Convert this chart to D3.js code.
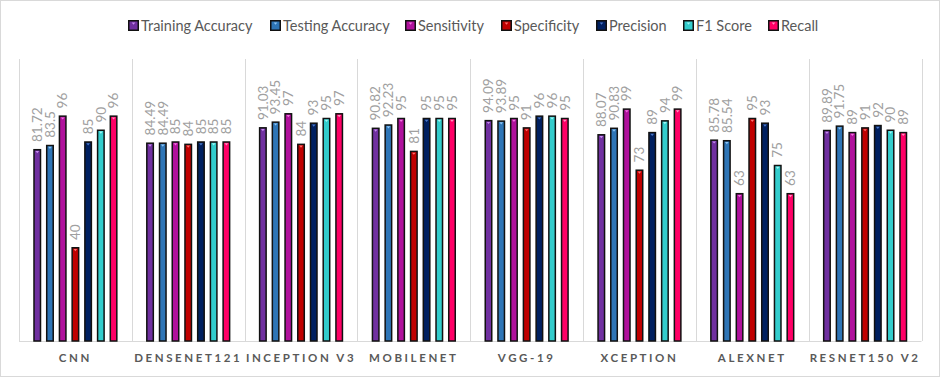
<!DOCTYPE html>
<html><head><meta charset="utf-8">
<script src="https://cdn.jsdelivr.net/npm/d3@7"></script>
<style>body{margin:0;background:#fff}svg{display:block}</style>
</head><body><div id="chart"></div>
<script>
const categories = ["CNN","DENSENET121","INCEPTION V3","MOBILENET","VGG-19","XCEPTION","ALEXNET","RESNET150 V2"];
const seriesNames = ["Training Accuracy","Testing Accuracy","Sensitivity","Specificity","Precision","F1 Score","Recall"];
const trainingAccuracy = [81.72,84.49,91.03,90.82,94.09,88.07,85.78,89.89];
const testingAccuracy  = [83.5,84.49,93.45,92.23,93.89,90.83,85.54,91.75];
const sensitivity      = [96,85,97,95,95,99,63,89];
const specificity      = [40,84,84,81,91,73,95,91];
const precision        = [85,85,93,95,96,89,93,92];
const f1Score          = [90,85,95,95,96,94,75,90];
const recall           = [96,85,97,95,95,99,63,89];
const seriesValues = [trainingAccuracy,testingAccuracy,sensitivity,specificity,precision,f1Score,recall];
const colors = ["#7030A0","#2E75B6","#B0119C","#C00000","#002060","#33CCCC","#FF0066"];
const lightColors = ["#C58BF0","#8CC4F5","#F070E0","#FF7070","#4A78C8","#A0F5F5","#FF90C0"];

const W=941,H=378;
const svg=d3.select("#chart").append("svg").attr("width",W).attr("height",H);
svg.append("rect").attr("x",0.5).attr("y",0.5).attr("width",W-2).attr("height",H-2)
  .attr("fill","#fff").attr("stroke","#D9D9D9").attr("stroke-width",1);

const plot={left:19,right:921.5,top:59,bottom:341};
const x0=d3.scaleBand().domain(categories).range([plot.left,plot.right]).padding(0);
const x1=d3.scaleBand().domain(seriesNames).range([0,x0.bandwidth()]).paddingInner(0.37).paddingOuter(1.12);
const y=d3.scaleLinear().domain([0,120]).range([plot.bottom,plot.top]);

// separators
const seps=categories.map(c=>x0(c)).concat([plot.right]);
svg.append("g").selectAll("line").data(seps).join("line")
  .attr("x1",d=>Math.round(d)+0.5).attr("x2",d=>Math.round(d)+0.5)
  .attr("y1",plot.top).attr("y2",plot.bottom)
  .attr("stroke","#D9D9D9").attr("stroke-width",1);
svg.append("line").attr("x1",plot.left).attr("x2",plot.right)
  .attr("y1",plot.bottom+0.5).attr("y2",plot.bottom+0.5).attr("stroke","#D9D9D9");

// bars
const data=[];
categories.forEach((c,ci)=>seriesNames.forEach((s,si)=>data.push({c,s,si,v:seriesValues[si][ci]})));
const g=svg.append("g");
const bw=x1.bandwidth();
g.selectAll("rect.bar").data(data).join("rect").attr("class","bar")
  .attr("x",d=>x0(d.c)+x1(d.s)+0.75).attr("y",d=>y(d.v)+0.75)
  .attr("width",bw-1.5).attr("height",d=>y(0)-y(d.v)-0.75)
  .attr("fill",d=>colors[d.si]).attr("stroke","#111").attr("stroke-width",1.5);
g.selectAll("path.tri").data(data).join("path").attr("class","tri")
  .attr("d",d=>{const cx=x0(d.c)+x1(d.s)+bw/2, t=y(d.v)+2;return `M${cx-1.8},${t}L${cx+1.8},${t}L${cx},${t+2.2}Z`;})
  .attr("fill",d=>lightColors[d.si]);
// labels
g.selectAll("text.lab").data(data).join("text").attr("class","lab")
  .attr("transform",d=>`translate(${x0(d.c)+x1(d.s)+bw/2},${y(d.v)-7}) rotate(-90)`)
  .attr("dy","0.35em").attr("text-anchor","start")
  .attr("font-family","Lato, 'Open Sans', sans-serif").attr("font-size",13.5)
  .attr("fill","#A0A0A0").text(d=>d.v);

// x axis labels
svg.append("g").selectAll("text").data(categories).join("text")
  .attr("x",d=>x0(d)+x0.bandwidth()/2).attr("y",362)
  .attr("text-anchor","middle").attr("font-family","Lato, 'Open Sans', sans-serif")
  .attr("font-weight","bold").attr("font-size",11.5).attr("letter-spacing","2.6px")
  .attr("fill","#595959").text(d=>d);

// legend
const legX=[128,270,405,501,596,683,768];
const leg=svg.append("g").selectAll("g").data(seriesNames).join("g")
  .attr("transform",(d,i)=>`translate(${legX[i]},20)`);
leg.append("rect").attr("x",0.75).attr("y",0.75).attr("width",9.5).attr("height",9.5)
  .attr("fill",(d,i)=>colors[i]).attr("stroke","#111").attr("stroke-width",1.5);
leg.append("path").attr("d","M3.7,2.5L7.3,2.5L5.5,4.8Z").attr("fill",(d,i)=>lightColors[i]);
leg.append("text").attr("x",13).attr("y",5.5).attr("dy","0.35em")
  .attr("font-family","Lato, 'Open Sans', sans-serif").attr("font-size",14.5)
  .attr("fill","#595959").text(d=>d);
</script></body></html>
